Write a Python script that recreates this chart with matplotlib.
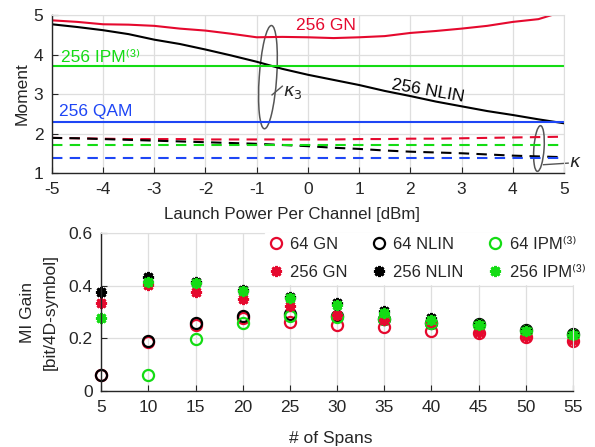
import numpy as np
import matplotlib.pyplot as plt
from matplotlib.patches import Ellipse

plt.rcParams['font.family'] = ['Liberation Sans', 'DejaVu Sans']
plt.rcParams['font.size'] = 12
plt.rcParams['mathtext.fontset'] = 'dejavusans'
plt.rcParams['axes.unicode_minus'] = False

RED = '#E5092E'
GREEN = '#14DC14'
BLUE = '#1E46F5'
BLACK = '#000000'
GRID = '#DEDEDE'
AXC = '#262626'

# ---- top panel data: moments vs launch power ----
power = [-5, -4.5, -4, -3.5, -3, -2.5, -2, -1.5, -1, -0.5, 0, 0.5, 1, 1.5, 2, 2.5, 3, 3.5, 4, 4.5, 5]
gn_k3 = [4.87, 4.83, 4.77, 4.76, 4.73, 4.66, 4.61, 4.53, 4.44, 4.45, 4.44, 4.42, 4.44, 4.47,
         4.55, 4.60, 4.66, 4.73, 4.83, 4.90, 5.10]
nlin_k3 = [4.77, 4.70, 4.62, 4.52, 4.38, 4.27, 4.13, 3.98, 3.82, 3.64, 3.49, 3.36, 3.23, 3.08,
           2.95, 2.81, 2.69, 2.57, 2.47, 2.36, 2.26]
ipm_k3 = 3.70
qam_k3 = 2.29
gn_k = [1.89, 1.88, 1.87, 1.86, 1.86, 1.86, 1.85, 1.85, 1.85, 1.85, 1.85, 1.85, 1.86, 1.86,
        1.87, 1.87, 1.88, 1.89, 1.90, 1.91, 1.92]
nlin_k = [1.89, 1.88, 1.86, 1.84, 1.82, 1.80, 1.78, 1.76, 1.74, 1.71, 1.68, 1.64, 1.61, 1.57,
          1.54, 1.52, 1.50, 1.47, 1.44, 1.42, 1.40]
ipm_k = 1.71
qam_k = 1.39

# ---- bottom panel data: MI gain vs number of spans ----
spans = [5, 10, 15, 20, 25, 30, 35, 40, 45, 50, 55]
gn64 = [0.063, 0.185, 0.250, 0.276, 0.263, 0.251, 0.244, 0.229, 0.219, 0.206, 0.191]
nlin64 = [0.063, 0.190, 0.260, 0.285, 0.293, 0.285, 0.275, 0.260, 0.253, 0.232, 0.216]
ipm64 = [np.nan, 0.063, 0.197, 0.260, 0.283, 0.280, 0.272, 0.257, 0.251, 0.229, 0.213]
gn256 = [0.333, 0.403, 0.377, 0.349, 0.324, 0.289, 0.270, 0.261, 0.225, 0.208, 0.193]
nlin256 = [0.377, 0.434, 0.413, 0.385, 0.356, 0.335, 0.305, 0.278, 0.255, 0.232, 0.216]
ipm256 = [0.278, 0.415, 0.411, 0.381, 0.352, 0.327, 0.297, 0.270, 0.251, 0.229, 0.213]

SUP3 = '\u207d\u00b3\u207e'  # small superscript (3)


def style_axes(ax):
    ax.grid(True, color=GRID, linewidth=0.9)
    ax.set_axisbelow(True)
    for s in ['top', 'right']:
        ax.spines[s].set_color(GRID)
    for s in ['left', 'bottom']:
        ax.spines[s].set_color(AXC)
        ax.spines[s].set_linewidth(1.0)
    ax.tick_params(direction='in', length=4, colors=AXC, labelcolor=AXC, labelsize=12.5,
                   top=False, right=False)
    ax.tick_params(axis='x', pad=6.5)
    ax.tick_params(axis='y', pad=6)


fig = plt.figure(figsize=(5.95, 4.47), dpi=100)

# top panel
ax1 = fig.add_axes([0.087, 0.613, 0.861, 0.353])
style_axes(ax1)
ax1.plot(power, gn_k3, color=RED, lw=1.5)
ax1.plot(power, nlin_k3, color=BLACK, lw=1.5)
ax1.axhline(ipm_k3, color=GREEN, lw=1.5)
ax1.axhline(qam_k3, color=BLUE, lw=1.5)
dash = (5, 3.5)
ax1.plot(power, gn_k, color=RED, lw=1.5, dashes=dash)
ax1.plot(power, nlin_k, color=BLACK, lw=1.5, dashes=dash)
ax1.axhline(ipm_k, color=GREEN, lw=1.5, dashes=dash)
ax1.axhline(qam_k, color=BLUE, lw=1.5, dashes=dash)
ax1.set_xlim(-5, 5)
ax1.set_ylim(1, 5)
ax1.set_xticks(range(-5, 6))
ax1.set_yticks(range(1, 6))
ax1.set_xlabel('Launch Power Per Channel [dBm]', color=AXC, fontsize=12.2, labelpad=6)
ax1.xaxis.set_label_coords(0.468, -0.215)
ax1.set_ylabel('Moment', color=AXC, fontsize=12.5, labelpad=3)

ax1.text(0.35, 4.75, '256 GN', color=RED, ha='center', va='center', fontsize=12.5)
ax1.text(-4.82, 3.94, '256 IPM' + SUP3, color=GREEN, ha='left', va='center', fontsize=12.5)
ax1.text(-4.85, 2.55, '256 QAM', color=BLUE, ha='left', va='center', fontsize=12.5)
ax1.text(2.34, 3.07, '256 NLIN', color=BLACK, ha='center', va='center', rotation=-10,
         fontsize=12.5)

ax1.add_patch(Ellipse((-0.78, 3.43), 0.34, 2.62, angle=-3, fill=False,
                      edgecolor='#555555', lw=1.1))
ax1.plot([-0.7, -0.5], [2.98, 3.2], color='#555555', lw=1.0)
ax1.text(-0.48, 3.05, r'$\kappa_3$', color=AXC, ha='left', va='center', fontsize=13)
ax1.add_patch(Ellipse((4.51, 1.62), 0.2, 1.16, angle=-3, fill=False,
                      edgecolor='#555555', lw=1.1, clip_on=False))
ax1.plot([4.6, 5.08], [1.21, 1.25], color='#555555', lw=1.0, clip_on=False)
ax1.text(5.1, 1.27, r'$\kappa$', color=AXC, ha='left', va='center', fontsize=13)

# bottom panel
ax2 = fig.add_axes([0.170, 0.125, 0.793, 0.354])
style_axes(ax2)
ms = 8
h64gn, = ax2.plot(spans, gn64, 'o', mfc='none', mec=RED, mew=1.6, ms=ms, clip_on=False)
h64nl, = ax2.plot(spans, nlin64, 'o', mfc='none', mec=BLACK, mew=1.6, ms=ms, clip_on=False)
h64ipm, = ax2.plot(spans, ipm64, 'o', mfc='none', mec=GREEN, mew=1.6, ms=ms, clip_on=False)
star = (8, 2, 0)
h256gn, = ax2.plot(spans, gn256, marker=star, ls='none', color=RED, mew=2.0, ms=8, clip_on=False)
h256nl, = ax2.plot(spans, nlin256, marker=star, ls='none', color=BLACK, mew=2.0, ms=8, clip_on=False)
h256ipm, = ax2.plot(spans, ipm256, marker=star, ls='none', color=GREEN, mew=2.0, ms=8, clip_on=False)
ax2.set_xlim(5, 55)
ax2.set_ylim(0, 0.6)
ax2.set_xticks(spans)
ax2.set_yticks([0, 0.2, 0.4, 0.6])
ax2.set_yticklabels(['0', '0.2', '0.4', '0.6'])
ax2.set_xlabel('# of Spans', color=AXC, fontsize=12.5, labelpad=6)
ax2.xaxis.set_label_coords(0.487, -0.255)
ax2.set_ylabel('MI Gain\n[bit/4D-symbol]', color=AXC, fontsize=12.5, labelpad=8,
               linespacing=1.6)

leg = ax2.legend([h64gn, h256gn, h64nl, h256nl, h64ipm, h256ipm],
                 ['64 GN', '256 GN', '64 NLIN', '256 NLIN', '64 IPM' + SUP3, '256 IPM' + SUP3],
                 ncol=3, loc='upper right', bbox_to_anchor=(1.035, 1.0), frameon=True,
                 fancybox=False, framealpha=1, facecolor='white', edgecolor='white',
                 handlelength=0.8, handletextpad=0.45, columnspacing=1.5, labelspacing=0.75,
                 borderaxespad=0.0, borderpad=0.25, fontsize=12)
for t in leg.get_texts():
    t.set_color(AXC)

fig.savefig('out.png', dpi=100)
